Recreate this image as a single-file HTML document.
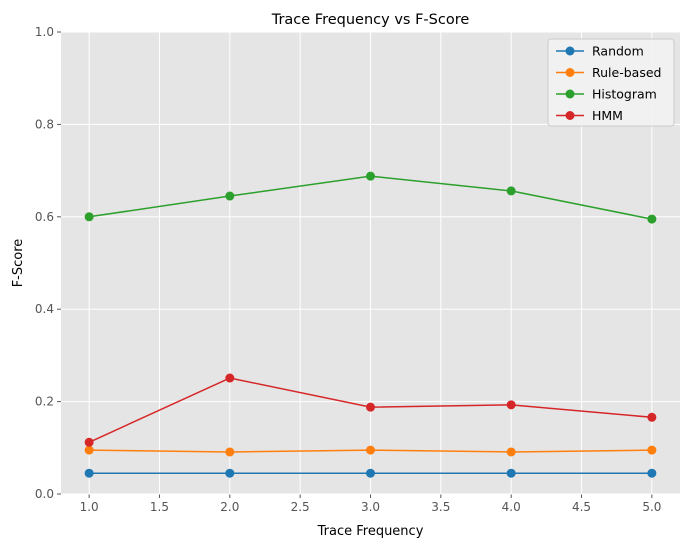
<!DOCTYPE html>
<html><head><meta charset="utf-8"><style>
body{margin:0;background:#fff;}
text{font-family:"DejaVu Sans","Liberation Sans",sans-serif;}
</style></head><body>
<svg id="chart" width="691" height="547" xmlns="http://www.w3.org/2000/svg"></svg>
<script>
const xValues=[1,2,3,4,5];
const seriesNames=["Random","Rule-based","Histogram","HMM"];
const randomVals=[0.045,0.045,0.045,0.045,0.045];
const ruleVals=[0.095,0.091,0.095,0.091,0.095];
const histVals=[0.600,0.645,0.688,0.656,0.595];
const hmmVals=[0.112,0.251,0.188,0.193,0.166];
const xTicks=[1.0,1.5,2.0,2.5,3.0,3.5,4.0,4.5,5.0];
const yTicks=[0.0,0.2,0.4,0.6,0.8,1.0];
const colors=["#1f77b4","#ff7f0e","#2ca02c","#d62728"];
const allSeries=[randomVals,ruleVals,histVals,hmmVals];
const L=61,R=680,T=32,B=494;
const xs=v=>L+(v-0.8)/(4.4)*(R-L);
const ys=v=>B-v*(B-T);
const svg=document.getElementById('chart');
const NS="http://www.w3.org/2000/svg";
function mk(tag,attrs,parent){const e=document.createElementNS(NS,tag);for(const k in attrs)e.setAttribute(k,attrs[k]);(parent||svg).appendChild(e);return e;}
let bg=mk('rect',{x:L,y:T,width:R-L,height:B-T,fill:'#e5e5e5'});


xTicks.forEach(t=>{
 let g=mk('line',{x1:xs(t),x2:xs(t),y1:T,y2:B,stroke:'#fff','stroke-width':1});
 
 
 let tk=mk('line',{x1:xs(t),x2:xs(t),y1:B,y2:B+4,stroke:'#555'});
 
 
 let lb=mk('text',{x:xs(t),y:B+17,'text-anchor':'middle','font-size':12,fill:'#555'});
 lb.textContent=t.toFixed(1);
 
 
});
yTicks.forEach(t=>{
 let g=mk('line',{x1:L,x2:R,y1:ys(t),y2:ys(t),stroke:'#fff','stroke-width':1});
 
 
 let tk=mk('line',{x1:L-4,x2:L,y1:ys(t),y2:ys(t),stroke:'#555'});
 
 
 let lb=mk('text',{x:L-7,y:ys(t)+4,'text-anchor':'end','font-size':12,fill:'#555'});
 lb.textContent=t.toFixed(1);
 
 
});
allSeries.forEach((vals,i)=>{
 let pts=vals.map((v,j)=>xs(xValues[j])+','+ys(v)).join(' ');
 let pl=mk('polyline',{points:pts,fill:'none',stroke:colors[i],'stroke-width':1.5});
 
 
 vals.forEach((v,j)=>{
  let c=mk('circle',{cx:xs(xValues[j]),cy:ys(v),r:4.5,fill:colors[i]});
  
  
 });
});
let title=mk('text',{x:(L+R)/2,y:24,'text-anchor':'middle','font-size':14.5,fill:'#000'});
title.textContent='Trace Frequency vs F-Score';


let xt=mk('text',{x:(L+R)/2,y:535,'text-anchor':'middle','font-size':13,fill:'#000'});
xt.textContent='Trace Frequency';


let yt=mk('text',{x:22,y:(T+B)/2,'text-anchor':'middle','font-size':13,fill:'#000',transform:'rotate(-90 22 '+((T+B)/2)+')'});
yt.textContent='F-Score';


let lg=mk('rect',{x:548,y:39,width:126,height:87,rx:3,fill:'#f2f2f2',stroke:'#ccc','fill-opacity':0.9});


seriesNames.forEach((n,i)=>{
 const y=51+i*21.5;
 let l=mk('line',{x1:556,x2:584,y1:y,y2:y,stroke:colors[i],'stroke-width':1.5});
 
 
 let c=mk('circle',{cx:570,cy:y,r:4.5,fill:colors[i]});
 
 
 let t=mk('text',{x:592,y:y+4.5,'font-size':12.5,fill:'#000'});
 t.textContent=n;
 
 
});
</script>
</body></html>
